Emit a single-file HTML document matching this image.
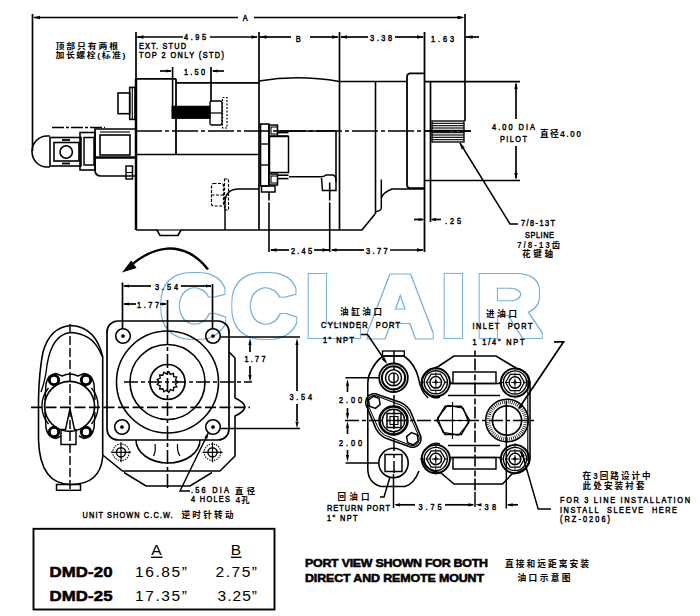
<!DOCTYPE html>
<html><head><meta charset="utf-8"><title>DMD-20 / DMD-25 dimensions</title>
<style>
html,body{margin:0;padding:0;background:#fff;}
svg{display:block;}
line,path,rect,circle,polyline{stroke:#000;}
text{fill:#000;stroke:none;}
.d{font-family:"Liberation Sans",sans-serif;stroke:#000;stroke-width:0.5;}
.c{font-family:"Liberation Sans","Noto Sans CJK SC",sans-serif;font-weight:bold;}
.t{font-family:"Liberation Sans",sans-serif;}
.b{font-family:"Liberation Sans",sans-serif;font-weight:bold;stroke:#000;stroke-width:0.55;}
.wm{font-family:"Liberation Sans",sans-serif;font-weight:bold;fill:#000;stroke:none;}
</style></head><body>
<svg width="700" height="616" viewBox="0 0 700 616">
<rect x="0" y="0" width="700" height="616" style="fill:#fff;stroke:none"/>
<defs><filter id="ol" filterUnits="userSpaceOnUse" x="120" y="240" width="460" height="130"><feMorphology in="SourceAlpha" operator="dilate" radius="3" result="a"/><feMorphology in="SourceAlpha" operator="dilate" radius="2" result="b"/><feComposite in="a" in2="b" operator="out" result="ring"/><feFlood flood-color="#72b0e0"/><feComposite in2="ring" operator="in"/></filter></defs>
<text transform="scale(1.06 1)" x="150.47 217.45 287.26 346.23 415.57 448.58" y="336.2" font-size="87" class="wm" filter="url(#ol)">CCLAIR</text>
<line x1="32.5" y1="14" x2="32.5" y2="151" stroke-width="1.69"/>
<line x1="465" y1="14" x2="465" y2="121" stroke-width="1.69"/>
<line x1="34" y1="17.5" x2="238" y2="17.5" stroke-width="1.69"/>
<line x1="254" y1="17.5" x2="463" y2="17.5" stroke-width="1.69"/>
<polygon points="33.00,17.50 40.00,15.80 40.00,19.20" fill="#000" stroke="none"/>
<polygon points="464.50,17.50 457.50,19.20 457.50,15.80" fill="#000" stroke="none"/>
<text transform="translate(245.3 21) scale(0.76 1)" font-size="9.7" text-anchor="middle" class="d">A</text>
<line x1="136" y1="32" x2="136" y2="79" stroke-width="1.69"/>
<line x1="259" y1="32" x2="259" y2="230" stroke-width="1.69"/>
<line x1="339.5" y1="32" x2="339.5" y2="230" stroke-width="1.69"/>
<line x1="424.5" y1="32" x2="424.5" y2="252" stroke-width="1.81"/>
<line x1="137" y1="37" x2="183" y2="37" stroke-width="1.69"/>
<line x1="210" y1="37" x2="257" y2="37" stroke-width="1.69"/>
<polygon points="136.50,37.00 143.50,35.30 143.50,38.70" fill="#000" stroke="none"/>
<polygon points="258.50,37.00 251.50,38.70 251.50,35.30" fill="#000" stroke="none"/>
<text transform="translate(184 40) scale(0.76 1)" font-size="9.7" text-anchor="start" class="d" textLength="28.95" lengthAdjust="spacing">4.95</text>
<line x1="260" y1="37" x2="291" y2="37" stroke-width="1.69"/>
<line x1="310" y1="37" x2="338" y2="37" stroke-width="1.69"/>
<polygon points="259.50,37.00 266.50,35.30 266.50,38.70" fill="#000" stroke="none"/>
<polygon points="339.00,37.00 332.00,38.70 332.00,35.30" fill="#000" stroke="none"/>
<text transform="translate(298.3 41.5) scale(0.76 1)" font-size="9.7" text-anchor="middle" class="d">B</text>
<line x1="341" y1="37" x2="368" y2="37" stroke-width="1.69"/>
<line x1="395" y1="37" x2="423" y2="37" stroke-width="1.69"/>
<polygon points="340.00,37.00 347.00,35.30 347.00,38.70" fill="#000" stroke="none"/>
<polygon points="424.00,37.00 417.00,38.70 417.00,35.30" fill="#000" stroke="none"/>
<text transform="translate(370 41) scale(0.76 1)" font-size="9.7" text-anchor="start" class="d" textLength="28.95" lengthAdjust="spacing">3.38</text>
<text transform="translate(431 41.5) scale(0.76 1)" font-size="9.7" text-anchor="start" class="d" textLength="30.26" lengthAdjust="spacing">1.63</text>
<line x1="466" y1="37" x2="479" y2="37" stroke-width="1.69"/>
<polygon points="465.50,37.00 472.50,35.30 472.50,38.70" fill="#000" stroke="none"/>
<line x1="160" y1="71" x2="171" y2="71" stroke-width="1.69"/>
<polygon points="172.00,71.00 166.00,72.60 166.00,69.40" fill="#000" stroke="none"/>
<line x1="211" y1="67" x2="211" y2="101" stroke-width="1.69"/>
<line x1="213" y1="71" x2="224" y2="71" stroke-width="1.69"/>
<polygon points="211.50,71.00 217.50,69.40 217.50,72.60" fill="#000" stroke="none"/>
<text transform="translate(184 75) scale(0.76 1)" font-size="9.7" text-anchor="start" class="d" textLength="27.63" lengthAdjust="spacing">1.50</text>
<text transform="translate(139 49) scale(0.76 1)" font-size="9.7" text-anchor="start" class="d" textLength="61.84" lengthAdjust="spacing">EXT. STUD</text>
<text transform="translate(139 58) scale(0.76 1)" font-size="9.7" text-anchor="start" class="d" textLength="111.84" lengthAdjust="spacing">TOP 2 ONLY (STD)</text>
<text transform="translate(55.5 48.6) scale(1.15 1)" font-size="7.72" text-anchor="start" class="c" textLength="54.35" lengthAdjust="spacing">顶部只有两根</text>
<text transform="translate(55.5 57.9) scale(1.15 1)" font-size="7.72" text-anchor="start" class="c" textLength="60.87" lengthAdjust="spacing">加长螺栓(标准)</text>
<line x1="136" y1="78.7" x2="136" y2="230" stroke-width="2.49"/>
<line x1="136" y1="78.8" x2="176" y2="78.8" stroke-width="1.69"/>
<line x1="176" y1="82.8" x2="259" y2="82.8" stroke-width="1.69"/>
<path d="M259 81 Q298 74.5 339.5 81.4" stroke-width="1.47" fill="none"/>
<line x1="339.5" y1="81.5" x2="407" y2="81.5" stroke-width="1.58"/>
<path d="M136 230 L157 230 L160 235.5 L178 235.5 L181 230 L362 230 L375 214" stroke-width="1.69" fill="none"/>
<path d="M381.3 198 Q383 192.5 392 189 L424 189" stroke-width="1.69" fill="none"/>
<line x1="157" y1="230" x2="181" y2="230" stroke-width="1.13"/>
<line x1="136" y1="154.5" x2="259" y2="154.5" stroke-width="1.58"/>
<line x1="172.6" y1="67" x2="172.6" y2="106" stroke-width="1.58"/>
<line x1="176" y1="78.8" x2="176" y2="154.5" stroke-width="1.81"/>
<line x1="375.5" y1="81.5" x2="375.5" y2="214" stroke-width="1.58"/>
<path d="M381.3 179.5 L381.3 208 Q381 211 376 211.5" stroke-width="1.47" fill="none"/>
<path d="M424.5 73.3 L410.5 73.3 Q407 73.3 407 77 L407 184.5 Q407 188.2 410.5 188.2 L424.5 188.2" stroke-width="1.81" fill="none"/>
<line x1="430.5" y1="81.5" x2="430.5" y2="222" stroke-width="1.69"/>
<line x1="425" y1="81.6" x2="520" y2="81.6" stroke-width="1.58"/>
<line x1="425" y1="180.5" x2="520" y2="180.5" stroke-width="1.58"/>
<line x1="516" y1="84" x2="516" y2="119" stroke-width="1.69"/>
<line x1="516" y1="146" x2="516" y2="178" stroke-width="1.69"/>
<polygon points="516.00,82.00 517.70,89.00 514.30,89.00" fill="#000" stroke="none"/>
<polygon points="516.00,180.00 514.30,173.00 517.70,173.00" fill="#000" stroke="none"/>
<text transform="translate(492 129.5) scale(0.76 1)" font-size="9.7" text-anchor="start" class="d" textLength="56.58" lengthAdjust="spacing">4.00 DIA</text>
<text transform="translate(500 141.8) scale(0.76 1)" font-size="9.7" text-anchor="start" class="d" textLength="35.53" lengthAdjust="spacing">PILOT</text>
<text transform="translate(540 137) scale(1 1)" font-size="8.71" text-anchor="start" class="c" textLength="41.0" lengthAdjust="spacing">直径4.00</text>
<rect x="432" y="121" width="32" height="21" rx="0" stroke-width="1.36" fill="none"/>
<line x1="432" y1="123.33" x2="464" y2="123.33" stroke-width="1.13"/>
<line x1="432" y1="125.67" x2="464" y2="125.67" stroke-width="1.13"/>
<line x1="432" y1="128.0" x2="464" y2="128.0" stroke-width="1.13"/>
<line x1="432" y1="130.33" x2="464" y2="130.33" stroke-width="1.13"/>
<line x1="432" y1="132.67" x2="464" y2="132.67" stroke-width="1.13"/>
<line x1="432" y1="135.0" x2="464" y2="135.0" stroke-width="1.13"/>
<line x1="432" y1="137.33" x2="464" y2="137.33" stroke-width="1.13"/>
<line x1="432" y1="139.67" x2="464" y2="139.67" stroke-width="1.13"/>
<line x1="52" y1="127.5" x2="105" y2="127.5" stroke-width="1.58" stroke-dasharray="12 2 3 2"/>
<line x1="136" y1="131" x2="471" y2="131" stroke-width="1.47" stroke-dasharray="26 3 4 3"/>
<line x1="426" y1="131" x2="471" y2="131" stroke-width="1.47"/>
<path d="M460 143 L510 224 L518 224" stroke-width="1.47" fill="none"/>
<polygon points="459.50,142.50 464.69,147.53 461.62,149.41" fill="#000" stroke="none"/>
<text transform="translate(521 225.5) scale(0.76 1)" font-size="9.7" text-anchor="start" class="d" textLength="44.74" lengthAdjust="spacing">7/8-13T</text>
<text transform="translate(525 237.5) scale(0.76 1)" font-size="9.7" text-anchor="start" class="d" textLength="38.16" lengthAdjust="spacing">SPLINE</text>
<text transform="translate(517 247.7) scale(1 1)" font-size="8.3" text-anchor="start" class="c" textLength="43.0" lengthAdjust="spacing">7/8-13齿</text>
<text transform="translate(522 257.3) scale(1 1)" font-size="8.55" text-anchor="start" class="c" textLength="31.0" lengthAdjust="spacing">花键轴</text>
<line x1="414" y1="219.5" x2="423" y2="219.5" stroke-width="1.69"/>
<polygon points="424.50,219.50 418.50,221.10 418.50,217.90" fill="#000" stroke="none"/>
<line x1="432" y1="219.5" x2="441" y2="219.5" stroke-width="1.69"/>
<polygon points="430.00,219.50 436.00,217.90 436.00,221.10" fill="#000" stroke="none"/>
<text transform="translate(445 223.5) scale(0.76 1)" font-size="9.7" text-anchor="start" class="d" textLength="21.05" lengthAdjust="spacing">.25</text>
<line x1="332" y1="250" x2="364" y2="250" stroke-width="1.69"/>
<line x1="390" y1="250" x2="423" y2="250" stroke-width="1.69"/>
<polygon points="424.00,250.00 417.00,251.70 417.00,248.30" fill="#000" stroke="none"/>
<text transform="translate(366 254) scale(0.76 1)" font-size="9.7" text-anchor="start" class="d" textLength="28.29" lengthAdjust="spacing">3.77</text>
<line x1="269" y1="192" x2="269" y2="200.5" stroke-width="1.58"/>
<line x1="269" y1="202.5" x2="269" y2="252" stroke-width="1.58"/>
<line x1="329.7" y1="182.5" x2="329.7" y2="200.5" stroke-width="1.58"/>
<line x1="329.7" y1="202.5" x2="329.7" y2="252" stroke-width="1.58"/>
<line x1="271" y1="250" x2="289" y2="250" stroke-width="1.69"/>
<line x1="314" y1="250" x2="329" y2="250" stroke-width="1.69"/>
<polygon points="269.50,250.00 276.50,248.30 276.50,251.70" fill="#000" stroke="none"/>
<polygon points="329.50,250.00 322.50,251.70 322.50,248.30" fill="#000" stroke="none"/>
<polygon points="330.50,250.00 336.50,248.30 336.50,251.70" fill="#000" stroke="none"/>
<text transform="translate(291 254) scale(0.76 1)" font-size="9.7" text-anchor="start" class="d" textLength="27.63" lengthAdjust="spacing">2.45</text>
<rect x="118" y="93" width="11.699999999999989" height="20.700000000000003" rx="0" stroke-width="1.58" fill="none"/>
<rect x="129.7" y="87.4" width="5.300000000000011" height="32.0" rx="0" stroke-width="1.58" fill="none"/>
<line x1="132.3" y1="87.4" x2="132.3" y2="119.4" stroke-width="1.13"/>
<rect x="172" y="106.3" width="38" height="12.0" rx="0" stroke-width="1.13" fill="#000"/>
<rect x="210" y="101" width="12" height="24" rx="2" stroke-width="1.36" fill="none"/>
<line x1="210" y1="113" x2="222" y2="113" stroke-width="1.24"/>
<rect x="222.5" y="97.5" width="4.5" height="30.5" rx="0" stroke-width="1.13" fill="none" stroke-dasharray="2 1.5"/>
<rect x="211.5" y="183.5" width="12.0" height="22.5" rx="2" stroke-width="1.24" fill="none" stroke-dasharray="3 1.5"/>
<line x1="211.5" y1="195" x2="223.5" y2="195" stroke-width="1.13" stroke-dasharray="3 1.5"/>
<rect x="224.5" y="179" width="4.0" height="31" rx="0" stroke-width="1.13" fill="none" stroke-dasharray="3 1.5"/>
<path d="M225 230 L225 203 Q225 189 239 189 L259 189" stroke-width="1.47" fill="none"/>
<path d="M50 136 L47 136 A15 15.5 0 0 0 47 167 L50 167" stroke-width="1.58" fill="none"/>
<rect x="50" y="137.5" width="31" height="28.5" rx="0" stroke-width="1.58" fill="none"/>
<rect x="54" y="142.5" width="25" height="18.5" rx="0" stroke-width="1.58" fill="none"/>
<circle cx="66.2" cy="152" r="6.2" stroke-width="1.58" fill="none"/>
<line x1="62" y1="140" x2="70" y2="140" stroke-width="1.81"/>
<line x1="62" y1="163.5" x2="70" y2="163.5" stroke-width="1.81"/>
<rect x="80" y="132.5" width="15" height="37.5" rx="0" stroke-width="1.58" fill="none"/>
<rect x="84" y="137.5" width="10" height="27.5" rx="0" stroke-width="1.47" fill="none"/>
<path d="M135 129 L95 129 L95 170 Q95 176 101 176 L135 176" stroke-width="1.69" fill="none"/>
<rect x="100" y="135" width="30" height="20" rx="0" stroke-width="1.58" fill="none"/>
<line x1="95" y1="157.5" x2="135" y2="157.5" stroke-width="2.26"/>
<line x1="100" y1="132" x2="130" y2="132" stroke-width="1.13"/>
<rect x="126" y="166" width="6.5" height="13" rx="0" stroke-width="1.47" fill="none"/>
<line x1="126" y1="172.5" x2="132.5" y2="172.5" stroke-width="1.13"/>
<rect x="260.5" y="124" width="8.300000000000011" height="62" rx="0" stroke-width="1.58" fill="none"/>
<line x1="260.5" y1="144" x2="268.8" y2="144" stroke-width="1.36"/>
<line x1="260.5" y1="165" x2="268.8" y2="165" stroke-width="1.36"/>
<rect x="261.5" y="186" width="13.5" height="6" rx="0" stroke-width="1.47" fill="none"/>
<rect x="269" y="125" width="8.5" height="11" rx="0" stroke-width="1.47" fill="none"/>
<rect x="271" y="127" width="6.5" height="7" rx="0" stroke-width="1.13" fill="none"/>
<rect x="269" y="174" width="8.5" height="11" rx="0" stroke-width="1.47" fill="none"/>
<rect x="271" y="176" width="6.5" height="7" rx="0" stroke-width="1.13" fill="none"/>
<rect x="269.5" y="136.5" width="19.0" height="36.0" rx="0" stroke-width="1.47" fill="none"/>
<line x1="277.5" y1="131" x2="336" y2="131" stroke-width="1.58"/>
<line x1="336" y1="131" x2="336" y2="182" stroke-width="1.58"/>
<line x1="277.5" y1="132.5" x2="288.5" y2="132.5" stroke-width="1.81"/>
<line x1="277.5" y1="136" x2="288.5" y2="136" stroke-width="1.58"/>
<line x1="277.5" y1="175.2" x2="288.5" y2="175.2" stroke-width="1.58"/>
<line x1="277.5" y1="178.6" x2="288.5" y2="178.6" stroke-width="1.58"/>
<path d="M289 176.8 L321 176.8 Q324 176.8 326 175 L333 175 Q336 176 336 180 L336 190.5 L322.5 190.5 L321.5 178" stroke-width="1.47" fill="none"/>
<path d="M208 269.5 C197 255 182 247.5 167 248.6 C152 250 139 258 129 267" stroke-width="2.43" fill="none"/>
<polygon points="122.00,272.50 131.24,260.42 136.52,267.95" fill="#000" stroke="none"/>
<line x1="122.5" y1="282.5" x2="122.5" y2="329" stroke-width="1.69"/>
<line x1="212.5" y1="284" x2="212.5" y2="329" stroke-width="1.69"/>
<line x1="167.5" y1="300" x2="167.5" y2="330" stroke-width="1.69"/>
<line x1="124" y1="286" x2="151" y2="286" stroke-width="1.69"/>
<line x1="181" y1="286" x2="211" y2="286" stroke-width="1.69"/>
<polygon points="123.00,286.00 129.00,284.40 129.00,287.60" fill="#000" stroke="none"/>
<polygon points="212.00,286.00 206.00,287.60 206.00,284.40" fill="#000" stroke="none"/>
<text transform="translate(155 290) scale(0.76 1)" font-size="9.7" text-anchor="start" class="d" textLength="30.26" lengthAdjust="spacing">3.54</text>
<line x1="124" y1="304" x2="136" y2="304" stroke-width="1.69"/>
<line x1="160" y1="304" x2="166" y2="304" stroke-width="1.69"/>
<polygon points="123.00,304.00 129.00,302.40 129.00,305.60" fill="#000" stroke="none"/>
<polygon points="167.00,304.00 162.00,305.60 162.00,302.40" fill="#000" stroke="none"/>
<text transform="translate(137 308) scale(0.76 1)" font-size="9.7" text-anchor="start" class="d" textLength="28.95" lengthAdjust="spacing">1.77</text>
<rect x="107" y="321" width="122" height="119" rx="11" stroke-width="1.69" fill="none"/>
<circle cx="123" cy="336" r="7.3" stroke-width="1.58" fill="none"/>
<circle cx="123" cy="336" r="1.3" stroke-width="1.13" fill="#000"/>
<circle cx="213" cy="336" r="7.3" stroke-width="1.58" fill="none"/>
<circle cx="213" cy="336" r="1.3" stroke-width="1.13" fill="#000"/>
<circle cx="122" cy="427" r="7.3" stroke-width="1.58" fill="none"/>
<circle cx="122" cy="427" r="1.3" stroke-width="1.13" fill="#000"/>
<circle cx="213" cy="427" r="7.3" stroke-width="1.58" fill="none"/>
<circle cx="213" cy="427" r="1.3" stroke-width="1.13" fill="#000"/>
<circle cx="167.5" cy="382" r="51" stroke-width="1.58" fill="none"/>
<circle cx="167.5" cy="382" r="37.5" stroke-width="1.58" fill="none"/>
<circle cx="167.5" cy="382" r="17.5" stroke-width="1.69" fill="none"/>
<path d="M178.0 382.0 L175.46 383.96 L176.8 386.88 L173.64 387.44 L173.46 390.64 L170.41 389.67 L168.77 392.42 L166.51 390.14 L163.78 391.82 L162.84 388.75 L159.64 388.96 L160.24 385.81 L157.31 384.51 L159.3 382.0 L157.31 379.49 L160.24 378.19 L159.64 375.04 L162.84 375.25 L163.78 372.18 L166.51 373.86 L168.77 371.58 L170.41 374.33 L173.46 373.36 L173.64 376.56 L176.8 377.12 L175.46 380.04 Z" stroke-width="1.36" fill="none"/>
<line x1="124" y1="382" x2="252" y2="382" stroke-width="1.47" stroke-dasharray="14 3 4 3"/>
<line x1="31" y1="407.3" x2="250" y2="407.3" stroke-width="1.69" stroke-dasharray="11 3.5"/>
<line x1="167.5" y1="330" x2="167.5" y2="491" stroke-width="1.58" stroke-dasharray="14 3 4 3"/>
<path d="M229 352 L235 358 L235 398 Q244 402 245 407 Q244 412 235 416 L235 456 L220 471 L122.5 471 L102.7 455" stroke-width="1.58" fill="none"/>
<path d="M124 472.5 L146 486 L190 486 L212 472.5" stroke-width="1.47" fill="none"/>
<path d="M136 440 A32 23 0 0 0 200 440" stroke-width="1.58" fill="none"/>
<path d="M155 444 Q156 452 153.5 456" stroke-width="1.24" fill="none"/>
<path d="M177.5 444 Q177 452 180 456" stroke-width="1.24" fill="none"/>
<circle cx="121" cy="452.3" r="4.6" stroke-width="1.47" fill="none"/>
<circle cx="121" cy="452.3" r="8.3" stroke-width="1.02" fill="none" stroke-dasharray="1.5 1"/>
<line x1="111" y1="452.3" x2="131" y2="452.3" stroke-width="1.24"/>
<line x1="121" y1="442.3" x2="121" y2="462.3" stroke-width="1.24"/>
<circle cx="212.5" cy="452.3" r="4.6" stroke-width="1.47" fill="none"/>
<circle cx="212.5" cy="452.3" r="8.3" stroke-width="1.02" fill="none" stroke-dasharray="1.5 1"/>
<line x1="202.5" y1="452.3" x2="222.5" y2="452.3" stroke-width="1.24"/>
<line x1="212.5" y1="442.3" x2="212.5" y2="462.3" stroke-width="1.24"/>
<line x1="221" y1="337" x2="300" y2="337" stroke-width="1.47"/>
<line x1="221" y1="428.5" x2="300" y2="428.5" stroke-width="1.47"/>
<line x1="250" y1="345" x2="250" y2="352" stroke-width="1.69"/>
<line x1="250" y1="366" x2="250" y2="375" stroke-width="1.69"/>
<polygon points="250.00,338.00 251.60,345.00 248.40,345.00" fill="#000" stroke="none"/>
<polygon points="250.00,382.00 248.40,375.00 251.60,375.00" fill="#000" stroke="none"/>
<text transform="translate(244.5 361.6) scale(0.76 1)" font-size="9.7" text-anchor="start" class="d" textLength="27.63" lengthAdjust="spacing">1.77</text>
<line x1="297" y1="345" x2="297" y2="391" stroke-width="1.69"/>
<line x1="297" y1="404" x2="297" y2="421" stroke-width="1.69"/>
<polygon points="297.00,338.00 298.60,345.00 295.40,345.00" fill="#000" stroke="none"/>
<polygon points="297.00,428.50 295.40,421.50 298.60,421.50" fill="#000" stroke="none"/>
<text transform="translate(289.5 400) scale(0.76 1)" font-size="9.7" text-anchor="start" class="d" textLength="29.61" lengthAdjust="spacing">3.54</text>
<path d="M208 433.5 L180 491 L190 491" stroke-width="1.47" fill="none"/>
<polygon points="208.50,432.50 207.40,438.64 204.34,437.15" fill="#000" stroke="none"/>
<text transform="translate(191 493) scale(0.76 1)" font-size="9.7" text-anchor="start" class="d" textLength="50.0" lengthAdjust="spacing">.56 DIA</text>
<text transform="translate(235 493.5) scale(1 1)" font-size="8.3" text-anchor="start" class="c" textLength="20.0" lengthAdjust="spacing">直径</text>
<text transform="translate(191 502) scale(0.76 1)" font-size="9.7" text-anchor="start" class="d" textLength="51.32" lengthAdjust="spacing">4 HOLES</text>
<text transform="translate(235.5 502.5) scale(1 1)" font-size="8.3" text-anchor="start" class="c" textLength="14.0" lengthAdjust="spacing">4孔</text>
<text transform="translate(82.6 518) scale(0.76 1)" font-size="9.7" text-anchor="start" class="d" textLength="118.42" lengthAdjust="spacing">UNIT SHOWN C.C.W.</text>
<text transform="translate(181.5 518.3) scale(1 1)" font-size="8.55" text-anchor="start" class="c" textLength="52.0" lengthAdjust="spacing">逆时针转动</text>
<path d="M38.5 440 L38.5 400 Q39 372 43 352 Q50 327 71 325.5 Q96 327 102.7 357 L102.7 457" stroke-width="1.58" fill="none"/>
<path d="M38.5 440 Q40 484.5 71 484.5 Q100 484.5 102.7 457" stroke-width="1.58" fill="none"/>
<path d="M47 365 Q52 334 71 332.5 Q90 334 98 348 L102.7 357" stroke-width="1.47" fill="none"/>
<path d="M47 365 Q45.5 380 41 392" stroke-width="1.36" fill="none"/>
<rect x="56.5" y="484.5" width="24.0" height="5.800000000000011" rx="0" stroke-width="1.47" fill="none"/>
<circle cx="69.6" cy="406.3" r="25" stroke-width="1.69" fill="none"/>
<path d="M48.5 388 A28 28 0 0 0 48.5 424" stroke-width="1.36" fill="none"/>
<path d="M91.5 388 A28 28 0 0 1 91.5 424" stroke-width="1.36" fill="none"/>
<path d="M45 400 L46 384 Q48 374 56 373.5 L62 376 Q70 372 78 376 L84 373.5 Q92 374 94 384 L95 400" stroke-width="1.47" fill="none"/>
<path d="M45 412 L46 428 Q48 438 56 438.5 L61 436 M79 436 L84 438.5 Q92 438 94 428 L95 412" stroke-width="1.47" fill="none"/>
<circle cx="54" cy="380" r="4.7" stroke-width="2.94" fill="none"/>
<circle cx="86" cy="380" r="4.7" stroke-width="2.94" fill="none"/>
<circle cx="54" cy="432" r="4.7" stroke-width="2.94" fill="none"/>
<circle cx="86" cy="432" r="4.7" stroke-width="2.94" fill="none"/>
<path d="M70 409 L65.5 429.5 L61 429.5 L61 444.5 L76 444.5 L76 429.5 L74.5 429.5 L70 409" stroke-width="1.47" fill="none"/>
<line x1="70" y1="324" x2="70" y2="492" stroke-width="1.47" stroke-dasharray="9 3"/>
<rect x="33.5" y="528.8" width="241.0" height="80.70000000000005" rx="0" stroke-width="1.92" fill="none"/>
<text transform="translate(156.5 555) scale(1 1)" font-size="15.5" text-anchor="middle" class="t">A</text>
<line x1="151" y1="557.3" x2="162.5" y2="557.3" stroke-width="1.36"/>
<text transform="translate(236 555) scale(1 1)" font-size="15.5" text-anchor="middle" class="t">B</text>
<line x1="231" y1="557.3" x2="241.5" y2="557.3" stroke-width="1.36"/>
<text transform="translate(49.5 577) scale(1.12 1)" font-size="15" text-anchor="start" class="b" textLength="56.25" lengthAdjust="spacing">DMD-20</text>
<text transform="translate(49.5 600.5) scale(1.12 1)" font-size="15" text-anchor="start" class="b" textLength="56.25" lengthAdjust="spacing">DMD-25</text>
<text transform="translate(135 577) scale(1 1)" font-size="15.5" text-anchor="start" class="t" textLength="52.0" lengthAdjust="spacing">16.85”</text>
<text transform="translate(215.5 577) scale(1 1)" font-size="15.5" text-anchor="start" class="t" textLength="41.5" lengthAdjust="spacing">2.75”</text>
<text transform="translate(135 600.5) scale(1 1)" font-size="15.5" text-anchor="start" class="t" textLength="52.0" lengthAdjust="spacing">17.35”</text>
<text transform="translate(217.5 600.5) scale(1 1)" font-size="15.5" text-anchor="start" class="t" textLength="39.5" lengthAdjust="spacing">3.25”</text>
<text transform="translate(340 315) scale(1 1)" font-size="8.55" text-anchor="start" class="c" textLength="42.0" lengthAdjust="spacing">油缸油口</text>
<text transform="translate(321 328.3) scale(0.76 1)" font-size="9.7" text-anchor="start" class="d" textLength="103.95" lengthAdjust="spacing">CYLINDER  PORT</text>
<text transform="translate(323 343) scale(0.76 1)" font-size="9.7" text-anchor="start" class="d" textLength="40.79" lengthAdjust="spacing">1" NPT</text>
<text transform="translate(486 317) scale(1 1)" font-size="8.55" text-anchor="start" class="c" textLength="31.0" lengthAdjust="spacing">进油口</text>
<text transform="translate(472.5 329.4) scale(0.76 1)" font-size="9.7" text-anchor="start" class="d" textLength="78.95" lengthAdjust="spacing">INLET  PORT</text>
<text transform="translate(472.5 344.6) scale(0.76 1)" font-size="9.7" text-anchor="start" class="d" textLength="68.42" lengthAdjust="spacing">1 1/4" NPT</text>
<path d="M361 334.5 L367.5 334.5 L386 362" stroke-width="1.47" fill="none"/>
<polygon points="387.00,364.00 381.59,359.20 384.58,357.19" fill="#000" stroke="none"/>
<line x1="345.5" y1="377.8" x2="379" y2="377.8" stroke-width="1.47"/>
<line x1="345.5" y1="463" x2="379" y2="463" stroke-width="1.47"/>
<line x1="347.5" y1="386" x2="347.5" y2="392" stroke-width="1.69"/>
<line x1="347.5" y1="408" x2="347.5" y2="413" stroke-width="1.69"/>
<line x1="347.5" y1="428" x2="347.5" y2="434" stroke-width="1.69"/>
<line x1="347.5" y1="450" x2="347.5" y2="455" stroke-width="1.69"/>
<polygon points="347.50,379.00 349.10,386.00 345.90,386.00" fill="#000" stroke="none"/>
<polygon points="347.50,420.00 345.90,413.00 349.10,413.00" fill="#000" stroke="none"/>
<polygon points="347.50,421.00 349.10,428.00 345.90,428.00" fill="#000" stroke="none"/>
<polygon points="347.50,462.00 345.90,455.00 349.10,455.00" fill="#000" stroke="none"/>
<text transform="translate(339 403) scale(0.76 1)" font-size="9.7" text-anchor="start" class="d" textLength="30.26" lengthAdjust="spacing">2.00</text>
<text transform="translate(339 445.5) scale(0.76 1)" font-size="9.7" text-anchor="start" class="d" textLength="30.26" lengthAdjust="spacing">2.00</text>
<line x1="345" y1="420.5" x2="537" y2="420.5" stroke-width="1.58" stroke-dasharray="14 3 4 3"/>
<line x1="394" y1="351" x2="394" y2="474" stroke-width="1.47" stroke-dasharray="12 3 4 3"/>
<line x1="475" y1="350.5" x2="475" y2="492" stroke-width="1.58" stroke-dasharray="6 2 12 4"/>
<path d="M367.8 469 L367.8 383 Q368 376 371 371 Q375 362 383 356 L404 356 Q415 364 418.5 378 Q420.5 391 428 398" stroke-width="1.58" fill="none"/>
<path d="M367.8 469 Q368 483 381 486.5 L405 486.5 Q414 484 419 471" stroke-width="1.58" fill="none"/>
<rect x="382.5" y="351" width="21.80000000000001" height="5" rx="0" stroke-width="1.36" fill="none"/>
<circle cx="393.5" cy="377.8" r="14.3" stroke-width="1.81" fill="none"/>
<circle cx="393.5" cy="377.8" r="11.6" stroke-width="2.03" fill="none"/>
<circle cx="393.5" cy="377.8" r="8" stroke-width="1.47" fill="none"/>
<circle cx="393.5" cy="377.8" r="4.8" stroke-width="1.36" fill="none"/>
<circle cx="393.5" cy="420.5" r="14" stroke-width="2.49" fill="none"/>
<circle cx="393.5" cy="420.5" r="11.2" stroke-width="1.36" fill="none"/>
<rect x="387" y="413.5" width="14" height="14.0" rx="0" stroke-width="1.47" fill="none"/>
<line x1="394" y1="413.5" x2="394" y2="427.5" stroke-width="1.13"/>
<line x1="387" y1="420.5" x2="401" y2="420.5" stroke-width="1.13"/>
<rect x="390" y="416.5" width="8" height="8.0" rx="0" stroke-width="1.13" fill="none"/>
<circle cx="393.5" cy="463" r="14.7" stroke-width="1.58" fill="none"/>
<rect x="385" y="454.5" width="17" height="17.0" rx="0" stroke-width="1.47" fill="none"/>
<path d="M365.7 402.3 L365.8 401.2 L366.0 400.1 L366.4 399.0 L366.9 398.0 L367.5 397.1 L368.2 396.2 L369.1 395.5 L370.0 394.9 L371.0 394.4 L372.1 394.0 L373.2 393.8 L374.3 393.7 L375.4 393.8 L376.5 394.0 L377.6 394.4 L400.8 402.6 L403.0 403.7 L405.1 405.1 L407.0 406.8 L408.7 408.7 L410.1 410.7 L411.2 413.0 L420.3 435.4 L420.7 436.5 L420.9 437.6 L421.0 438.7 L420.9 439.8 L420.7 440.9 L420.3 442.0 L419.8 443.0 L419.2 443.9 L418.5 444.8 L417.6 445.5 L416.7 446.1 L415.7 446.6 L414.6 447.0 L413.5 447.2 L412.4 447.3 L411.3 447.2 L410.2 447.0 L409.1 446.6 L386.0 438.2 L383.8 437.1 L381.7 435.7 L379.8 434.0 L378.1 432.1 L376.7 430.0 L375.6 427.8 L366.4 405.6 L366.0 404.5 L365.8 403.4 Z" stroke-width="1.58" fill="none"/>
<path d="M367.5 402.3 L367.6 401.4 L367.7 400.5 L368.0 399.7 L368.4 398.9 L368.9 398.2 L369.5 397.5 L370.2 396.9 L370.9 396.4 L371.7 396.0 L372.5 395.7 L373.4 395.6 L374.3 395.5 L375.2 395.6 L376.1 395.7 L376.9 396.0 L399.9 404.7 L401.9 405.7 L403.7 406.9 L405.4 408.4 L406.9 410.1 L408.1 411.9 L409.1 413.9 L418.7 436.1 L419.0 436.9 L419.1 437.8 L419.2 438.7 L419.1 439.6 L419.0 440.5 L418.7 441.3 L418.3 442.1 L417.8 442.8 L417.2 443.5 L416.5 444.1 L415.8 444.6 L415.0 445.0 L414.2 445.3 L413.3 445.4 L412.4 445.5 L411.5 445.4 L410.6 445.3 L409.8 445.0 L386.9 436.1 L384.9 435.1 L383.1 433.9 L381.4 432.4 L379.9 430.7 L378.7 428.9 L377.7 426.9 L368.0 404.9 L367.7 404.1 L367.6 403.2 Z" stroke-width="1.02" fill="none"/>
<path d="M380.13 404.42 L375.38 408.41 L369.55 406.29 L368.47 400.18 L373.22 396.19 L379.05 398.31 Z" stroke-width="1.47" fill="none"/>
<path d="M418.23 440.82 L413.48 444.81 L407.65 442.69 L406.57 436.58 L411.32 432.59 L417.15 434.71 Z" stroke-width="1.47" fill="none"/>
<path d="M437.5 367 L454 356 L496 356 L517.5 369 Q530 372 530 384 L530 458 Q530 470 512 474 L502.5 484 L454 484 L441 473 Q424 470 422 458" stroke-width="1.58" fill="none"/>
<path d="M422 384 Q421 372 437.5 367" stroke-width="1.58" fill="none"/>
<path d="M426 392 Q432 400 440 397" stroke-width="1.36" fill="none"/>
<path d="M426 449 Q432 441 440 444" stroke-width="1.36" fill="none"/>
<circle cx="435.8" cy="382.3" r="14.1" stroke-width="1.92" fill="none"/>
<circle cx="435.8" cy="382.3" r="11.6" stroke-width="1.36" fill="none"/>
<path d="M445.2 382.3 L440.5 390.44 L431.1 390.44 L426.4 382.3 L431.1 374.16 L440.5 374.16 Z" stroke-width="1.24" fill="none"/>
<circle cx="435.8" cy="382.3" r="5.8" stroke-width="1.47" fill="none"/>
<line x1="433.6" y1="382.3" x2="438.0" y2="382.3" stroke-width="1.47"/>
<line x1="435.8" y1="380.1" x2="435.8" y2="384.5" stroke-width="1.47"/>
<line x1="419.8" y1="382.3" x2="451.8" y2="382.3" stroke-width="0.9" stroke-dasharray="4 2"/>
<line x1="435.8" y1="366.3" x2="435.8" y2="398.3" stroke-width="0.9" stroke-dasharray="4 2"/>
<circle cx="515" cy="382.5" r="14.1" stroke-width="1.92" fill="none"/>
<circle cx="515" cy="382.5" r="11.6" stroke-width="1.36" fill="none"/>
<path d="M524.4 382.5 L519.7 390.64 L510.3 390.64 L505.6 382.5 L510.3 374.36 L519.7 374.36 Z" stroke-width="1.24" fill="none"/>
<circle cx="515" cy="382.5" r="5.8" stroke-width="1.47" fill="none"/>
<line x1="512.8" y1="382.5" x2="517.2" y2="382.5" stroke-width="1.47"/>
<line x1="515" y1="380.3" x2="515" y2="384.7" stroke-width="1.47"/>
<line x1="499" y1="382.5" x2="531" y2="382.5" stroke-width="0.9" stroke-dasharray="4 2"/>
<line x1="515" y1="366.5" x2="515" y2="398.5" stroke-width="0.9" stroke-dasharray="4 2"/>
<circle cx="435.8" cy="459" r="14.1" stroke-width="1.92" fill="none"/>
<circle cx="435.8" cy="459" r="11.6" stroke-width="1.36" fill="none"/>
<path d="M445.2 459.0 L440.5 467.14 L431.1 467.14 L426.4 459.0 L431.1 450.86 L440.5 450.86 Z" stroke-width="1.24" fill="none"/>
<circle cx="435.8" cy="459" r="5.8" stroke-width="1.47" fill="none"/>
<line x1="433.6" y1="459" x2="438.0" y2="459" stroke-width="1.47"/>
<line x1="435.8" y1="456.8" x2="435.8" y2="461.2" stroke-width="1.47"/>
<line x1="419.8" y1="459" x2="451.8" y2="459" stroke-width="0.9" stroke-dasharray="4 2"/>
<line x1="435.8" y1="443" x2="435.8" y2="475" stroke-width="0.9" stroke-dasharray="4 2"/>
<circle cx="515" cy="459" r="14.1" stroke-width="1.92" fill="none"/>
<circle cx="515" cy="459" r="11.6" stroke-width="1.36" fill="none"/>
<path d="M524.4 459.0 L519.7 467.14 L510.3 467.14 L505.6 459.0 L510.3 450.86 L519.7 450.86 Z" stroke-width="1.24" fill="none"/>
<circle cx="515" cy="459" r="5.8" stroke-width="1.47" fill="none"/>
<line x1="512.8" y1="459" x2="517.2" y2="459" stroke-width="1.47"/>
<line x1="515" y1="456.8" x2="515" y2="461.2" stroke-width="1.47"/>
<line x1="499" y1="459" x2="531" y2="459" stroke-width="0.9" stroke-dasharray="4 2"/>
<line x1="515" y1="443" x2="515" y2="475" stroke-width="0.9" stroke-dasharray="4 2"/>
<rect x="453" y="372" width="43" height="11.5" rx="0" stroke-width="1.47" fill="none"/>
<line x1="449.5" y1="383.5" x2="502" y2="383.5" stroke-width="1.47"/>
<line x1="448" y1="395.5" x2="500" y2="395.5" stroke-width="1.36"/>
<rect x="453" y="457.5" width="43" height="11.5" rx="0" stroke-width="1.47" fill="none"/>
<line x1="449.5" y1="457.5" x2="502" y2="457.5" stroke-width="1.47"/>
<line x1="448" y1="445.5" x2="500" y2="445.5" stroke-width="1.36"/>
<line x1="527.8" y1="380" x2="527.8" y2="461" stroke-width="1.13"/>
<path d="M469.5 420.3 L461.35 434.42 L445.05 434.42 L436.9 420.3 L445.05 406.18 L461.35 406.18 Z" stroke-width="1.47" fill="none"/>
<path d="M468.76 423.04 L458.6 435.15 L443.04 432.4 L437.64 417.56 L447.8 405.45 L463.36 408.2 Z" stroke-width="1.13" fill="none"/>
<line x1="452.5" y1="402" x2="452.5" y2="439" stroke-width="1.13"/>
<line x1="436" y1="420.5" x2="469" y2="420.5" stroke-width="1.13"/>
<circle cx="507" cy="420.5" r="21.3" stroke-width="1.58" fill="none"/>
<circle cx="507" cy="420.5" r="14.6" stroke-width="1.69" fill="none"/>
<circle cx="507" cy="420.5" r="18.6" stroke-width="3.62" fill="none" stroke-dasharray="0.7 1.3"/>
<path d="M554 341.8 L563.6 341.8 L519.5 407.5" stroke-width="1.69" fill="none"/>
<polygon points="518.00,410.00 520.34,403.13 523.49,405.26" fill="#000" stroke="none"/>
<path d="M522 453 L538.2 509 L551 509" stroke-width="1.47" fill="none"/>
<polygon points="520.80,449.00 524.83,456.17 521.18,457.21" fill="#000" stroke="none"/>
<text transform="translate(582.5 479) scale(1 1)" font-size="8.55" text-anchor="start" class="c" textLength="68.0" lengthAdjust="spacing">在3回路设计中</text>
<text transform="translate(582.5 489) scale(1 1)" font-size="8.55" text-anchor="start" class="c" textLength="62.0" lengthAdjust="spacing">此处安装衬套</text>
<text transform="translate(560 502.6) scale(0.76 1)" font-size="9.7" text-anchor="start" class="d" textLength="171.05" lengthAdjust="spacing">FOR 3 LINE INSTALLATION</text>
<text transform="translate(560 512.6) scale(0.76 1)" font-size="9.7" text-anchor="start" class="d" textLength="153.95" lengthAdjust="spacing">INSTALL  SLEEVE  HERE</text>
<text transform="translate(560 522) scale(0.76 1)" font-size="9.7" text-anchor="start" class="d" textLength="65.79" lengthAdjust="spacing">(RZ-0206)</text>
<line x1="393.5" y1="474" x2="393.5" y2="508" stroke-width="1.47"/>
<line x1="506.3" y1="401" x2="506.3" y2="508.5" stroke-width="1.47"/>
<line x1="475" y1="492" x2="475" y2="507" stroke-width="1.47"/>
<line x1="396" y1="504.8" x2="415" y2="504.8" stroke-width="1.69"/>
<line x1="445" y1="504.8" x2="473" y2="504.8" stroke-width="1.69"/>
<polygon points="394.00,504.80 400.00,503.20 400.00,506.40" fill="#000" stroke="none"/>
<polygon points="474.50,504.80 468.50,506.40 468.50,503.20" fill="#000" stroke="none"/>
<text transform="translate(418.5 509.8) scale(0.76 1)" font-size="9.7" text-anchor="start" class="d" textLength="30.26" lengthAdjust="spacing">3.75</text>
<polygon points="475.50,504.80 481.50,503.20 481.50,506.40" fill="#000" stroke="none"/>
<text transform="translate(479 509.8) scale(0.76 1)" font-size="9.7" text-anchor="start" class="d" textLength="22.37" lengthAdjust="spacing">.38</text>
<line x1="508" y1="504.8" x2="518" y2="504.8" stroke-width="1.69"/>
<polygon points="506.80,504.80 512.80,503.20 512.80,506.40" fill="#000" stroke="none"/>
<text transform="translate(337.5 500) scale(1 1)" font-size="8.55" text-anchor="start" class="c" textLength="32.0" lengthAdjust="spacing">回油口</text>
<text transform="translate(327 511) scale(0.76 1)" font-size="9.7" text-anchor="start" class="d" textLength="82.89" lengthAdjust="spacing">RETURN PORT</text>
<text transform="translate(327 521.2) scale(0.76 1)" font-size="9.7" text-anchor="start" class="d" textLength="40.13" lengthAdjust="spacing">1" NPT</text>
<path d="M380 497 L384 497 L390 477" stroke-width="1.47" fill="none"/>
<text transform="translate(305 567.3) scale(1.08 1)" font-size="11.5" text-anchor="start" class="b" textLength="169.44" lengthAdjust="spacing">PORT VIEW SHOWN FOR BOTH</text>
<text transform="translate(305 582.3) scale(1.08 1)" font-size="11.5" text-anchor="start" class="b" textLength="165.74" lengthAdjust="spacing">DIRECT AND REMOTE MOUNT</text>
<text transform="translate(505 567) scale(1 1)" font-size="8.71" text-anchor="start" class="c" textLength="84.0" lengthAdjust="spacing">直接和远距离安装</text>
<text transform="translate(517.5 580.8) scale(1 1)" font-size="8.71" text-anchor="start" class="c" textLength="53.0" lengthAdjust="spacing">油口示意图</text>
</svg>
</body></html>
